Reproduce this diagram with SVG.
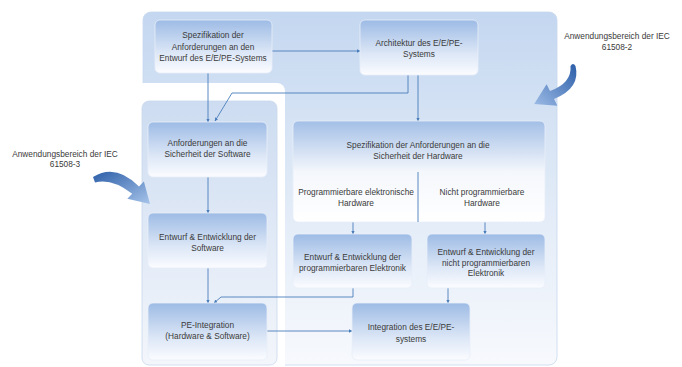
<svg xmlns="http://www.w3.org/2000/svg" width="682" height="367" viewBox="0 0 682 367">
<defs>
<linearGradient id="gOuter" x1="0" y1="0" x2="0" y2="1">
<stop offset="0" stop-color="#c4d7f0"/>
<stop offset="0.45" stop-color="#dde8f6"/>
<stop offset="1" stop-color="#f7f9fd"/>
</linearGradient>
<linearGradient id="gLeft" x1="0" y1="0" x2="0" y2="1">
<stop offset="0" stop-color="#cddcf1"/>
<stop offset="1" stop-color="#f3f6fb"/>
</linearGradient>
<linearGradient id="gNode" x1="0" y1="0" x2="0" y2="1">
<stop offset="0" stop-color="#9dbbe5"/>
<stop offset="0.6" stop-color="#dbe6f6"/>
<stop offset="1" stop-color="#fbfcff"/>
</linearGradient>
<linearGradient id="gHw" x1="0" y1="0" x2="0" y2="1">
<stop offset="0" stop-color="#a3bfe6"/>
<stop offset="0.5" stop-color="#f4f7fc"/>
<stop offset="1" stop-color="#ffffff"/>
</linearGradient>
<linearGradient id="gArrL" x1="0" y1="0" x2="1" y2="1">
<stop offset="0" stop-color="#2c5ea8"/>
<stop offset="1" stop-color="#a7c4ea"/>
</linearGradient>
<linearGradient id="gArrR" x1="1" y1="0" x2="0" y2="1">
<stop offset="0" stop-color="#2c5ea8"/>
<stop offset="1" stop-color="#9cbbe6"/>
</linearGradient>
<marker id="ah" viewBox="0 0 6 6" refX="5.5" refY="3" markerWidth="4" markerHeight="4" orient="auto">
<path d="M0,0 L6,3 L0,6 Z" fill="#4a7ebb"/>
</marker>
<style>
text { font-family: "Liberation Sans", Arial, sans-serif; font-size: 8.3px; fill: #3a3a3a; text-anchor: middle; }
.node { fill: url(#gNode); stroke: #e8eff9; stroke-width: 0.8; }
.conn { fill: none; stroke: #4a7ebb; stroke-width: 0.9; marker-end: url(#ah); }
.line { fill: none; stroke: #4a7ebb; stroke-width: 0.9; }
</style>
</defs>

<g id="regions">
<rect x="143" y="12" width="414" height="353" rx="8" fill="url(#gOuter)" stroke="#c8d8ee" stroke-width="0.8"/>
<rect x="136" y="83" width="149" height="290" rx="8" fill="#ffffff"/>
<rect x="142" y="101" width="135" height="264" rx="7" fill="url(#gLeft)" stroke="#c9d8ec" stroke-width="0.8"/>
</g>

<g id="scope-arrows">
<path d="M93 177 Q116 163 139 186.6 L143.9 181.6 L150 204 L127.3 198.8 L132.2 193.8 Q112 178 95 182.5 Z" fill="url(#gArrL)"/>
<path d="M570.5 66 Q572 83 550 91 L546.6 84.3 L534.2 104 L557.4 105.7 L554 99 Q581 88 575.5 66 Q573 62 570.5 66 Z" fill="url(#gArrR)"/>
</g>

<g id="labels">
<text x="65" y="157">Anwendungsbereich der IEC</text>
<text x="65" y="167">61508-3</text>
<text x="617" y="39">Anwendungsbereich der IEC</text>
<text x="617" y="50">61508-2</text>
</g>

<g id="connectors">
<path class="conn" d="M272 51 H360"/>
<path class="conn" d="M208 73 V122"/>
<path class="conn" d="M408 75 V93 H232 L215 121"/>
<path class="conn" d="M418 75 V121"/>
<path class="conn" d="M208 177 V213"/>
<path class="conn" d="M208 268 V303"/>
<path class="conn" d="M353 288 V297 H221 L214 303"/>
<path class="conn" d="M267 331 H352"/>
<path class="conn" d="M448 288 V303"/>
<path class="conn" d="M353 222 V234"/>
<path class="conn" d="M485 222 V234"/>
</g>

<g id="n-spez-entwurf">
<rect class="node" x="155" y="20" width="117" height="53" rx="5"/>
<text x="213" y="38">Spezifikation der</text>
<text x="213" y="49.5">Anforderungen an den</text>
<text x="213" y="61">Entwurf des E/E/PE-Systems</text>
</g>

<g id="n-architektur">
<rect class="node" x="360" y="20" width="118" height="55" rx="5"/>
<text x="419" y="46">Architektur des E/E/PE-</text>
<text x="419" y="57">Systems</text>
</g>

<g id="n-sw-anf">
<rect class="node" x="148" y="122" width="119" height="55" rx="5"/>
<text x="207.5" y="146">Anforderungen an die</text>
<text x="207.5" y="157">Sicherheit der Software</text>
</g>

<g id="n-sw-entwurf">
<rect class="node" x="148" y="213" width="119" height="55" rx="5"/>
<text x="207.5" y="240">Entwurf &amp; Entwicklung der</text>
<text x="207.5" y="250.5">Software</text>
</g>

<g id="n-pe-integration">
<rect class="node" x="148" y="303" width="119" height="57" rx="5"/>
<text x="207.5" y="328">PE-Integration</text>
<text x="207.5" y="339">(Hardware &amp; Software)</text>
</g>

<g id="n-hw-spez">
<rect x="293" y="121" width="252" height="101" rx="5" fill="url(#gHw)" stroke="#e8eff9" stroke-width="0.8"/>
<line class="line" x1="418" y1="172" x2="418" y2="222" stroke="#c9d6e8"/>
<text x="418" y="148">Spezifikation der Anforderungen an die</text>
<text x="418" y="158.5">Sicherheit der Hardware</text>
<text x="356" y="195">Programmierbare elektronische</text>
<text x="356" y="206">Hardware</text>
<text x="482" y="195">Nicht programmierbare</text>
<text x="482" y="206">Hardware</text>
</g>

<g id="n-prog-elektronik">
<rect class="node" x="293" y="234" width="119" height="54" rx="5"/>
<text x="352.5" y="260">Entwurf &amp; Entwicklung der</text>
<text x="352.5" y="270.5">programmierbaren Elektronik</text>
</g>

<g id="n-nichtprog-elektronik">
<rect class="node" x="427" y="234" width="118" height="54" rx="5"/>
<text x="486" y="255">Entwurf &amp; Entwicklung der</text>
<text x="486" y="265.5">nicht programmierbaren</text>
<text x="486" y="276">Elektronik</text>
</g>

<g id="n-integration">
<rect class="node" x="352" y="303" width="118" height="57" rx="5"/>
<text x="411" y="330">Integration des E/E/PE-</text>
<text x="411" y="341.5">systems</text>
</g>
</svg>
